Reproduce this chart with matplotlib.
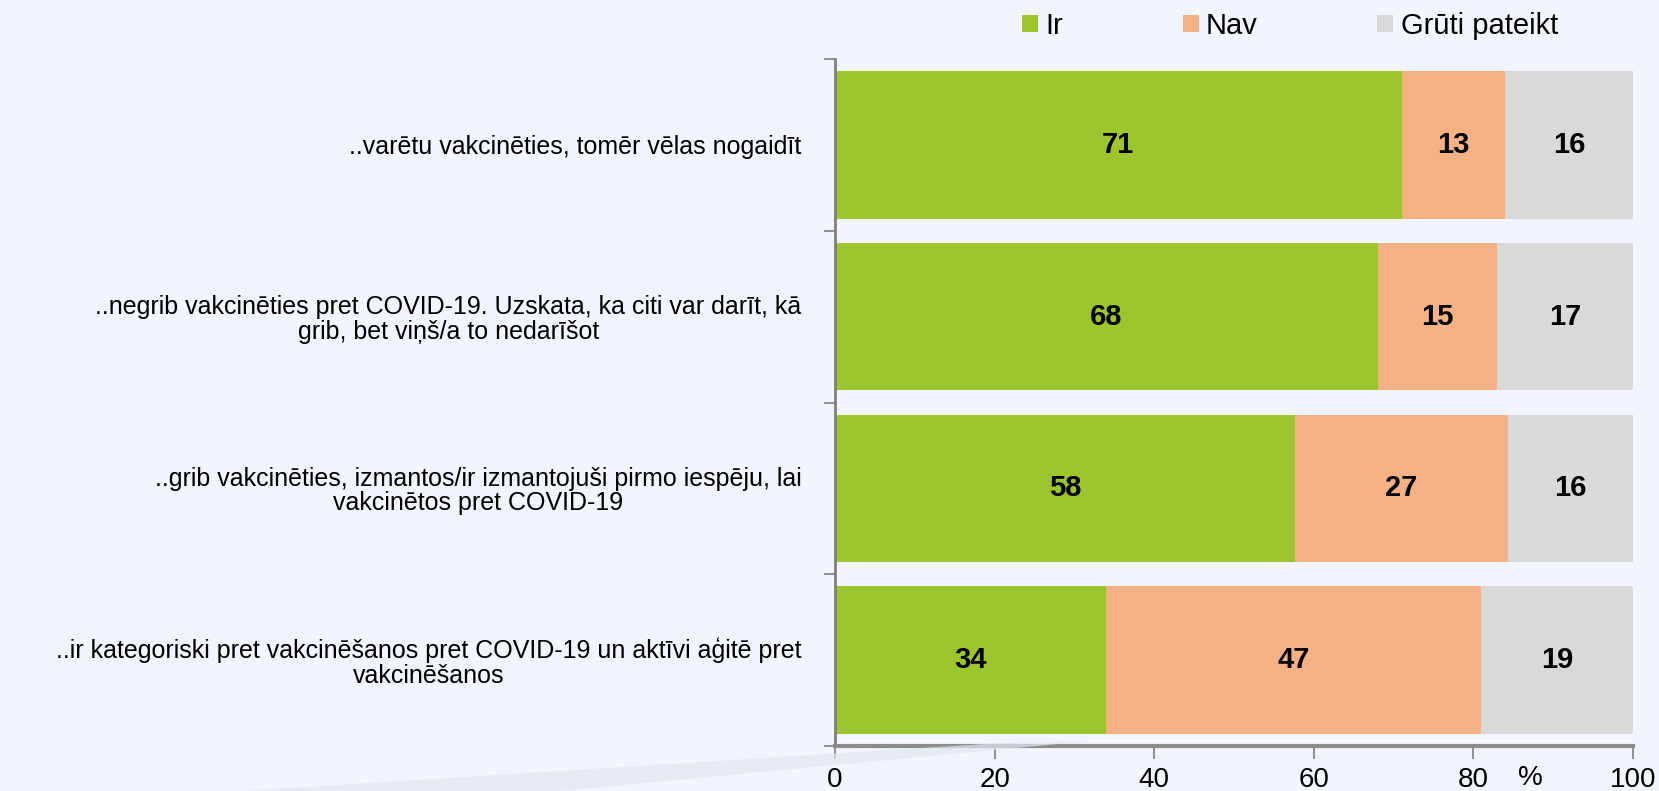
import numpy as np
import matplotlib
matplotlib.use("Agg")
import matplotlib.pyplot as plt
from matplotlib.patches import Polygon

plt.rcParams['font.family'] = ['Liberation Sans', 'DejaVu Sans']

categories = [
    "..varētu vakcinēties, tomēr vēlas nogaidīt",
    "..negrib vakcinēties pret COVID-19. Uzskata, ka citi var darīt, kā\ngrib, bet viņš/a to nedarīšot",
    "..grib vakcinēties, izmantos/ir izmantojuši pirmo iespēju, lai\nvakcinētos pret COVID-19",
    "..ir kategoriski pret vakcinēšanos pret COVID-19 un aktīvi aģitē pret\nvakcinēšanos",
]
series_names = ["Ir", "Nav", "Grūti pateikt"]
ir = [71, 68, 57.6, 34]
nav = [13, 15, 26.7, 47]
gruti = [16, 17, 15.7, 19]
xticks = [0, 20, 40, 60, 80, 100]

colors = ["#9DC62E", "#F4B183", "#D9D9D9"]
bg = "#F2F5FE"

fig = plt.figure(figsize=(16.59, 7.91), dpi=100)
fig.patch.set_facecolor(bg)

# faint swoosh in the background, bottom left
sw = Polygon([(243 / 1659, 0), (1000 / 1659, 1 - 743 / 791), (1090 / 1659, 1 - 741 / 791),
              (560 / 1659, 0)], closed=True, transform=fig.transFigure,
             facecolor="#E2E6EF", edgecolor="none", alpha=0.7, zorder=0)
fig.patches.append(sw)

ax = fig.add_axes([835 / 1659, 1 - 746 / 791, 798 / 1659, (746 - 59) / 791])
ax.set_facecolor("none")

y = np.arange(len(categories))
h = 0.86
left = np.zeros(len(categories))
for vals, c, name in zip([ir, nav, gruti], colors, series_names):
    vals = np.array(vals)
    ax.barh(y, vals, left=left, height=h, color=c, label=name, zorder=2)
    for yi, l, v in zip(y, left, vals):
        ax.text(l + v / 2, yi, f"{round(v):d}", ha="center", va="center",
                fontsize=21, fontweight="bold", color="black", zorder=3)
    left = left + vals

ax.set_xlim(0, 100)
ax.set_ylim(len(categories) - 0.5, -0.5)

ax.set_xticks(xticks)
ax.set_xticklabels([str(t) for t in xticks], fontsize=20)
ax.tick_params(axis="x", length=9, width=1.2, color="#7F7F7F", pad=6)

ax.set_yticks(np.arange(-0.5, len(categories), 1.0))
ax.set_yticklabels([])
ax.set_yticks(y, minor=True)
ax.set_yticklabels(categories, minor=True, fontsize=18, multialignment="center",
                   linespacing=1.02)
ax.tick_params(axis="y", which="major", length=8, width=1.2, color="#7F7F7F")
ax.tick_params(axis="y", which="minor", length=0, pad=24)

for s in ["top", "right"]:
    ax.spines[s].set_visible(False)
ax.spines["left"].set_color("#7F7F7F")
ax.spines["left"].set_linewidth(2)
ax.spines["bottom"].set_color("#8C8C8C")
ax.spines["bottom"].set_linewidth(3)

ax.text(87.2, -0.028, "%", transform=ax.get_xaxis_transform(), ha="center", va="top",
        fontsize=20)

fig.legend(loc="center", bbox_to_anchor=(1290 / 1659, 1 - 26 / 791), ncol=3,
           frameon=False, fontsize=21, handlelength=0.55, handleheight=0.55,
           handletextpad=0.25, columnspacing=4.1)

fig.savefig("out.png", dpi=100, facecolor=bg)
